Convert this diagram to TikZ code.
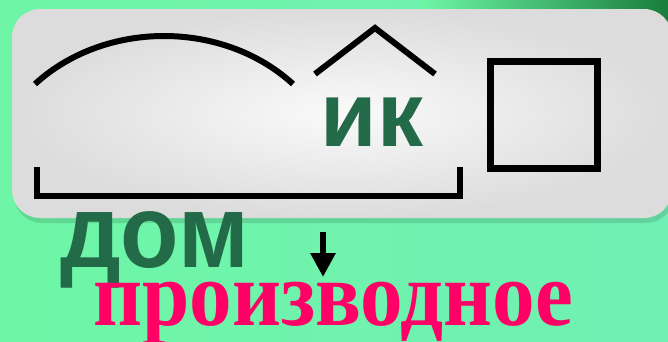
\documentclass[tikz,border=0pt]{standalone}
\usepackage{fontspec}
\newfontfamily\sansbold{Liberation Sans}[BoldFont={* Bold}]
\newfontfamily\serifbold{Liberation Serif}[BoldFont={* Bold}]
\definecolor{bggreen}{RGB}{110,246,166}
\definecolor{bggreen2}{RGB}{112,240,180}
\definecolor{darkgr}{RGB}{25,125,60}
\definecolor{textgreen}{RGB}{35,106,72}
\definecolor{magentared}{RGB}{255,0,102}
\definecolor{panelmid}{RGB}{250,250,250}
\definecolor{paneledge}{RGB}{220,220,220}
\usetikzlibrary{shadows,arrows.meta}
\tikzset{
  mark line/.style={line width=6pt, black},
  panel/.style={rounded corners=28pt, inner color=panelmid, outer color=paneledge}
}
\begin{document}
\begin{tikzpicture}[x=1pt,y=-1pt]
\useasboundingbox (0,0) rectangle (668,341);
% background
\shade[left color=bggreen, right color=bggreen2] (0,0) rectangle (668,341);
\begin{scope}
\clip (0,0) rectangle (668,45);
\shade[left color=bggreen, right color=darkgr] (420,0) rectangle (668,45);
\end{scope}
% shadow
\fill[black, opacity=0.12] (14,14) [rounded corners=28pt] rectangle (674,223);
% panel
\shade[panel] (12,9) rectangle (672,218);
% root arc
\coordinate (rootL) at (35,84);
\coordinate (rootR) at (293,84);
\draw[mark line] (rootL) .. controls (105,20) and (223,20) .. (rootR);
% suffix caret
\coordinate (sufL) at (315,74);
\coordinate (sufT) at (375,28);
\coordinate (sufR) at (435,74);
\draw[mark line, miter limit=10] (sufL) -- (sufT) -- (sufR);
% suffix text
\node[font=\sansbold\bfseries\fontsize{92}{92}\selectfont, text=textgreen, inner sep=0, anchor=base] (ik) at (372,146) {ик};
% ending square
\node[draw, line width=7pt, minimum width=107pt, minimum height=107pt, inner sep=0] (ending) at (544,115) {};
% base bracket
\coordinate (baseL) at (37,167);
\coordinate (baseR) at (460,167);
\draw[mark line] (baseL) -- ++(0,29) -| (baseR);
% word dom
\node[font=\sansbold\bfseries\fontsize{104}{104}\selectfont, text=textgreen, inner sep=0, anchor=base west, xscale=0.92] (dom) at (60,267) {дом};
% arrow
\coordinate (arrS) at (323,232);
\coordinate (arrE) at (323,277);
\draw[line width=6.5pt, -{Triangle[width=24pt,length=24pt]}] (arrS) -- (arrE);
% derived
\node[font=\serifbold\bfseries\fontsize{92}{92}\selectfont, text=magentared, inner sep=0, anchor=base west, xscale=0.925] (deriv) at (93,325) {производное};
\end{tikzpicture}
\end{document}
